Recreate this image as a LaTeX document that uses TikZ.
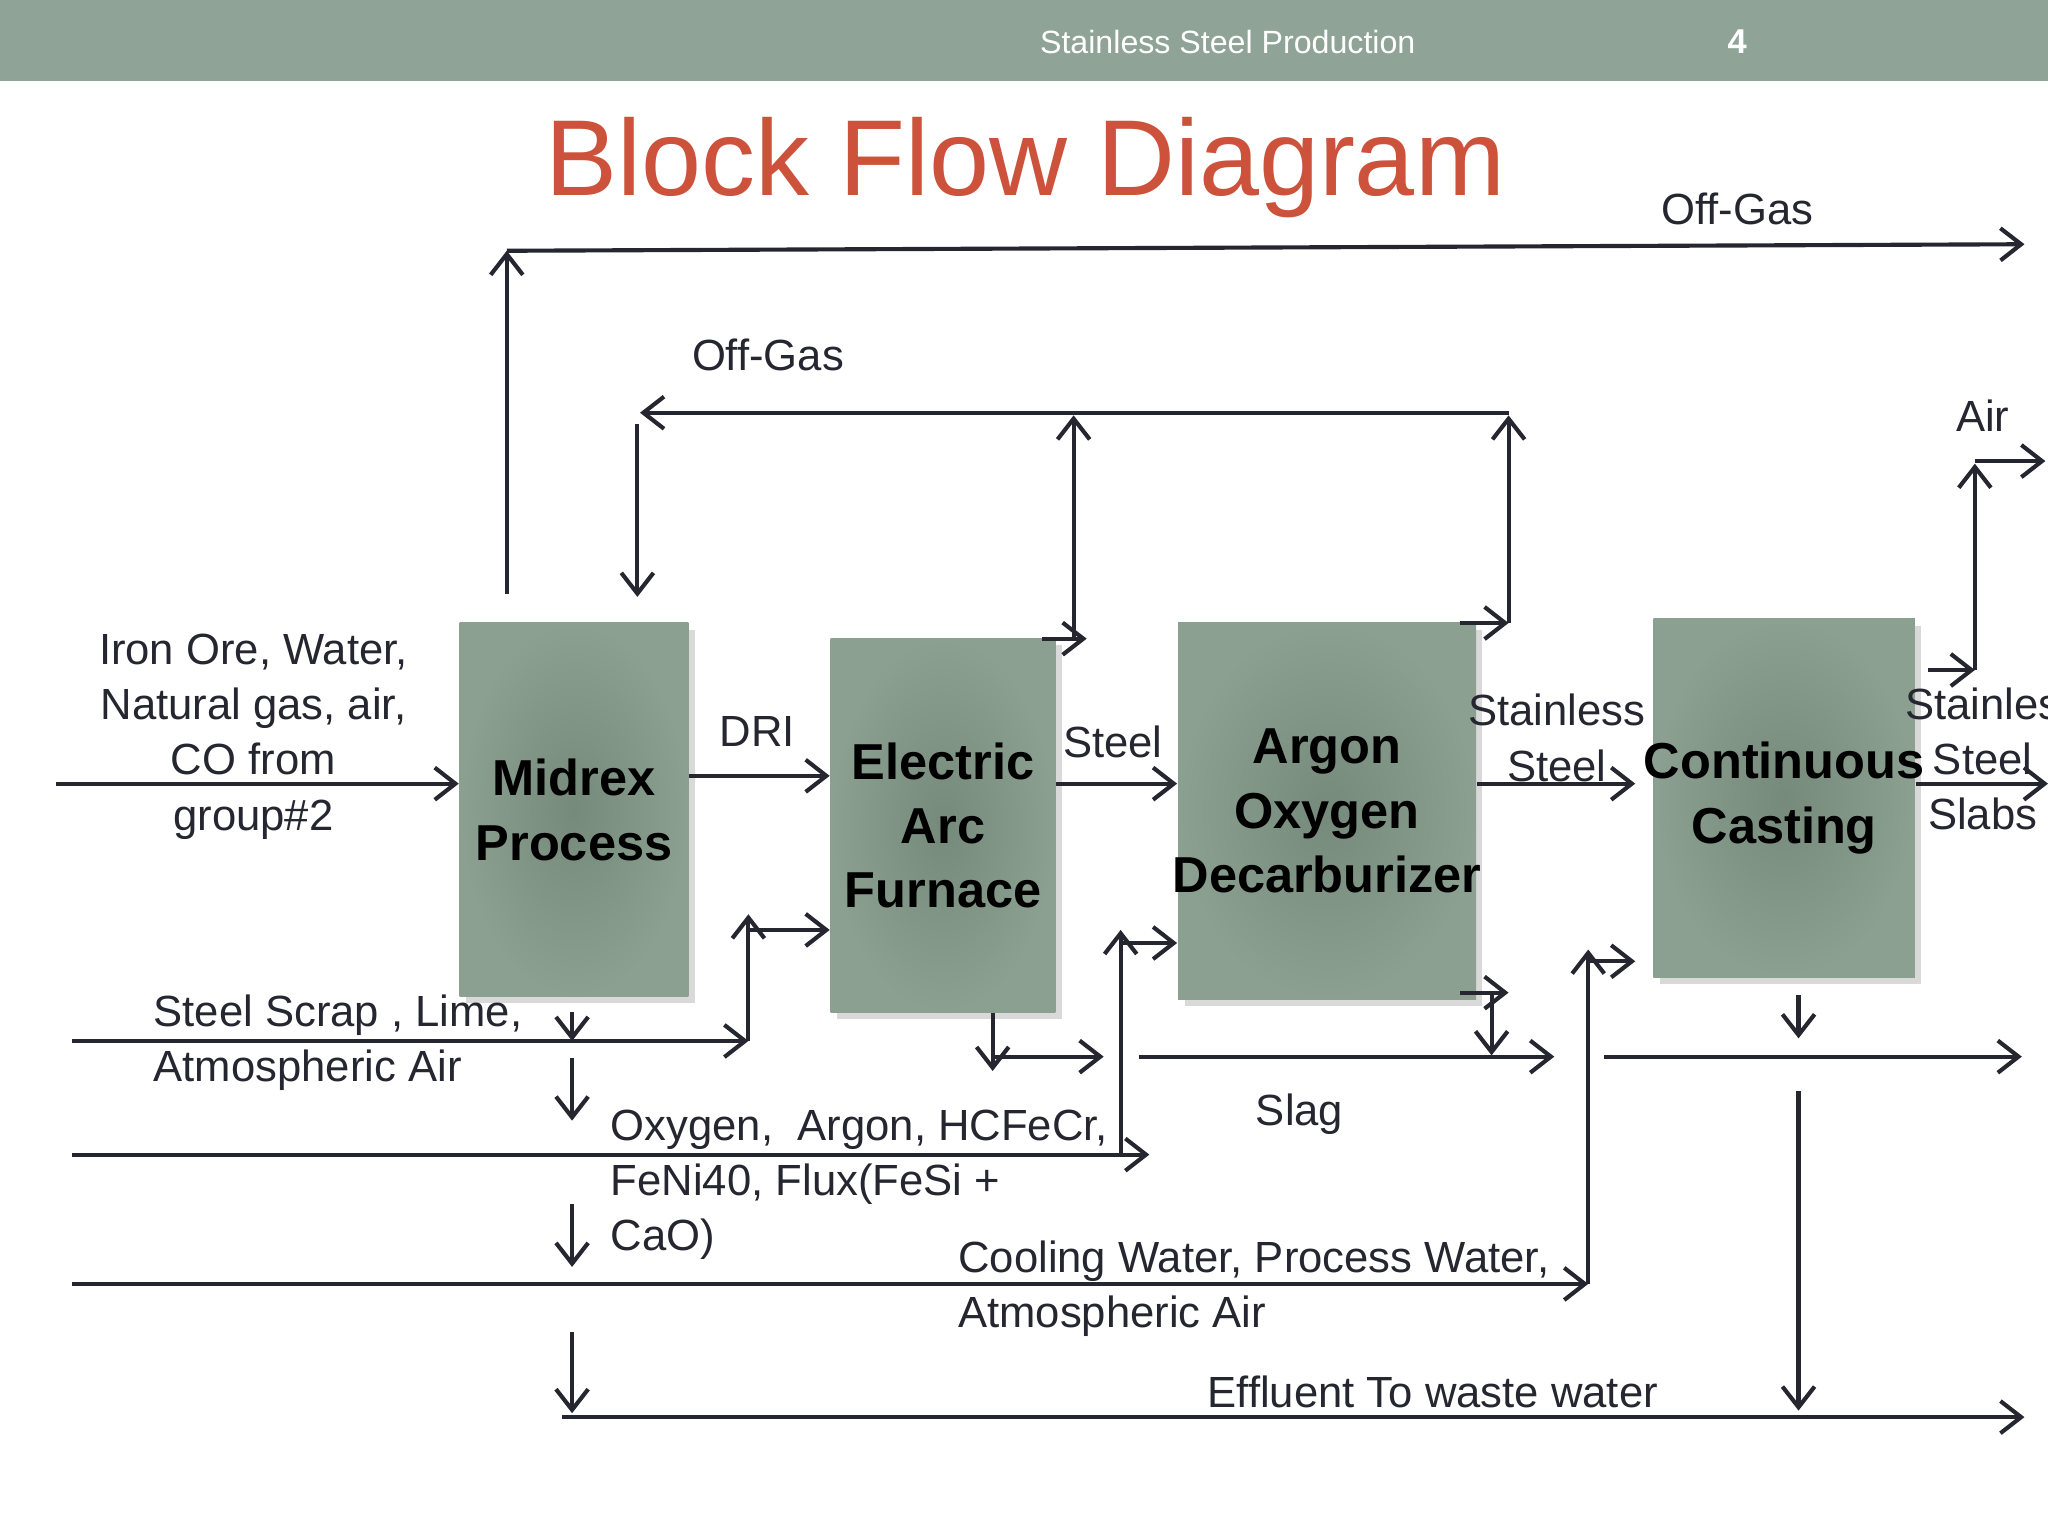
\documentclass[tikz,border=0pt]{standalone}
\usepackage{fontspec}
\setmainfont{Liberation Sans}
\usetikzlibrary{arrows.meta}
\definecolor{bar}{RGB}{143,163,150}
\definecolor{boxin}{RGB}{118,138,124}
\definecolor{boxout}{RGB}{140,160,146}
\definecolor{ttl}{RGB}{205,82,60}
\definecolor{ink}{RGB}{38,38,48}
\begin{document}
\begin{tikzpicture}[x=0.01cm,y=-0.01cm,
  flow/.style={draw=ink,line width=0.9pt,-{Straight Barb[length=4.5pt,width=7pt]}},
  blk/.style={draw=none,inner color=boxin,outer color=boxout,inner sep=0pt},
  btxt/.style={align=center,inner sep=0pt,font=\fontsize{11}{14}\selectfont\bfseries,text=black},
  lbl/.style={font=\fontsize{9.5}{12}\selectfont,inner sep=0pt,text=ink}]
\useasboundingbox (0,0) rectangle (1568,1176);
\fill[bar] (0,0) rectangle (1568,62);
\node[text=white,font=\fontsize{7}{8}\selectfont] (hd) at (940,32) {Stainless Steel Production};
\node[text=white,font=\fontsize{7.5}{8}\selectfont\bfseries] (pg) at (1330,32) {4};
\node[text=ttl,font=\fontsize{23.5}{26}\selectfont] (title) at (785,128) {Block Flow Diagram};

% shadows
\foreach \a/\b/\c/\d in {352/477/527/763,636/489/808/775,902/477/1130/765,1266/474/1466/748}
  \fill[black!15] (\a+5,\b+5) rectangle (\c+5,\d+5);
\node[blk,minimum width=1.75cm,minimum height=2.86cm] (mx) at (439.5,620) {};
\node[blk,minimum width=1.72cm,minimum height=2.86cm] (eaf) at (722,632) {};
\node[blk,minimum width=2.28cm,minimum height=2.88cm] (aod) at (1016,621) {};
\node[blk,minimum width=2.00cm,minimum height=2.74cm] (cc) at (1366,611) {};
\node[btxt] (mxt) at (mx) {Midrex\\Process};
\node[btxt] (eaft) at (eaf) {Electric\\Arc\\Furnace};
\node[btxt] (aodt) at (aod) {Argon\\Oxygen\\Decarburizer};
\node[btxt] (cct) at (cc) {Continuous\\Casting};

% feeds and main line
\coordinate (f0) at (43,600);
\draw[flow] (f0) -- (mx.west|-f0);
\node[lbl,align=center] (fl) at (194,564) {Iron Ore, Water,\\Natural gas, air,\\CO from\\group\#2};
\draw[flow] (mx.east|-0,594) -- (eaf.west|-0,594);
\node[lbl] (dri) at (580,560) {DRI};
\draw[flow] (eaf.east|-0,600) -- (aod.west|-0,600);
\node[lbl] (st) at (852,568) {Steel};
\coordinate (ss1) at (1252,600);
\draw[flow] (aod.east|-0,600) -- (ss1);
\node[lbl,align=center] (ssl) at (1192,565) {Stainless\\Steel};
\coordinate (out) at (1568,600);
\draw[flow] (cc.east|-0,600) -- (out);
\node[lbl,align=center] (slab) at (1518,581) {Stainles\\Steel\\Slabs};

% top off-gas
\coordinate (m1) at (388,455); \coordinate (m2) at (388,192); \coordinate (m3) at (1550,187);
\draw[flow] (m1) -- (m2);
\draw[flow] (m2) -- (m3);
\node[lbl] (og1) at (1330,160) {Off-Gas};

% recycle off-gas
\coordinate (r1) at (1155,316); \coordinate (r2) at (490,316); \coordinate (r3) at (488,325); \coordinate (r4) at (488,457);
\draw[flow] (r1) -- (r2);
\draw[flow] (r3) -- (r4);
\node[lbl] (og2) at (588,272) {Off-Gas};
\coordinate (e1) at (798,489); \coordinate (e2) at (832,489); \coordinate (e3) at (822,489); \coordinate (e4) at (822,318);
\draw[flow] (e1) -- (e2);
\draw[flow] (e3) -- (e4);
\coordinate (a1) at (1118,477); \coordinate (a2) at (1155,477); \coordinate (a3) at (1155,318);
\draw[flow] (a1) -- (a2);
\draw[flow] (a2) -- (a3);

% air
\coordinate (c1) at (1476,513); \coordinate (c2) at (1512,513); \coordinate (c3) at (1512,355); \coordinate (c4) at (1566,353);
\draw[flow] (c1) -- (c2);
\draw[flow] (c2) -- (c3);
\draw[flow] (1512,353) -- (c4);
\node[lbl] (air) at (1518,318) {Air};

% steel scrap
\coordinate (s1) at (55,797); \coordinate (s2) at (573,797); \coordinate (s3) at (573,700); \coordinate (s4) at (573,712);
\draw[flow] (s1) -- (s2);
\draw[flow] (s2) -- (s3);
\draw[flow] (s4) -- (eaf.west|-s4);
\node[lbl,align=left,anchor=west] (scl) at (117,798) {Steel Scrap , Lime,\\Atmospheric Air};

% small down arrows
\foreach \a/\b in {775/797,810/858,922/970,1020/1082}
  \draw[flow] (438,\a) -- (438,\b);

% oxygen
\coordinate (o1) at (55,884); \coordinate (o2) at (880,884); \coordinate (o3) at (858,884); \coordinate (o4) at (858,712); \coordinate (o5) at (858,722);
\draw[flow] (o1) -- (o2);
\draw[flow] (o3) -- (o4);
\draw[flow] (o5) -- (aod.west|-o5);
\node[lbl,align=left,anchor=west] (oxl) at (467,907) {Oxygen,\ \ Argon, HCFeCr,\\FeNi40, Flux(FeSi +\\CaO)};

% slag
\coordinate (g1) at (760,809); \coordinate (g2) at (845,809);
\draw[flow] (eaf.south-|g1) -- (760,820);
\draw[flow] (g1) -- (g2);
\coordinate (h1) at (1118,760); \coordinate (h2) at (1155,760); \coordinate (h3) at (1142,760); \coordinate (h4) at (1142,808);
\draw[flow] (h1) -- (h2);
\draw[flow] (h3) -- (h4);
\coordinate (h5) at (872,809); \coordinate (h6) at (1190,809);
\draw[flow] (h5) -- (h6);
\node[lbl] (slag) at (995,853) {Slag};
\coordinate (k1) at (1377,762); \coordinate (k2) at (1377,795);
\draw[flow] (k1) -- (k2);
\coordinate (k3) at (1228,809); \coordinate (k4) at (1548,809);
\draw[flow] (k3) -- (k4);

% cooling water
\coordinate (w1) at (55,983); \coordinate (w2) at (1216,983); \coordinate (w3) at (1216,727); \coordinate (w4) at (1216,736); \coordinate (w5) at (1252,736);
\draw[flow] (w1) -- (w2);
\draw[flow] (w2) -- (w3);
\draw[flow] (w4) -- (w5);
\node[lbl,align=left,anchor=west] (cwl) at (733,987) {Cooling Water, Process Water,\\Atmospheric Air};

% effluent
\coordinate (x1) at (430,1085); \coordinate (x2) at (1550,1085); \coordinate (x3) at (1377,835); \coordinate (x4) at (1377,1080);
\draw[flow] (x1) -- (x2);
\draw[flow] (x3) -- (x4);
\node[lbl] (eff) at (1097,1066) {Effluent To waste water};
\end{tikzpicture}
\end{document}
